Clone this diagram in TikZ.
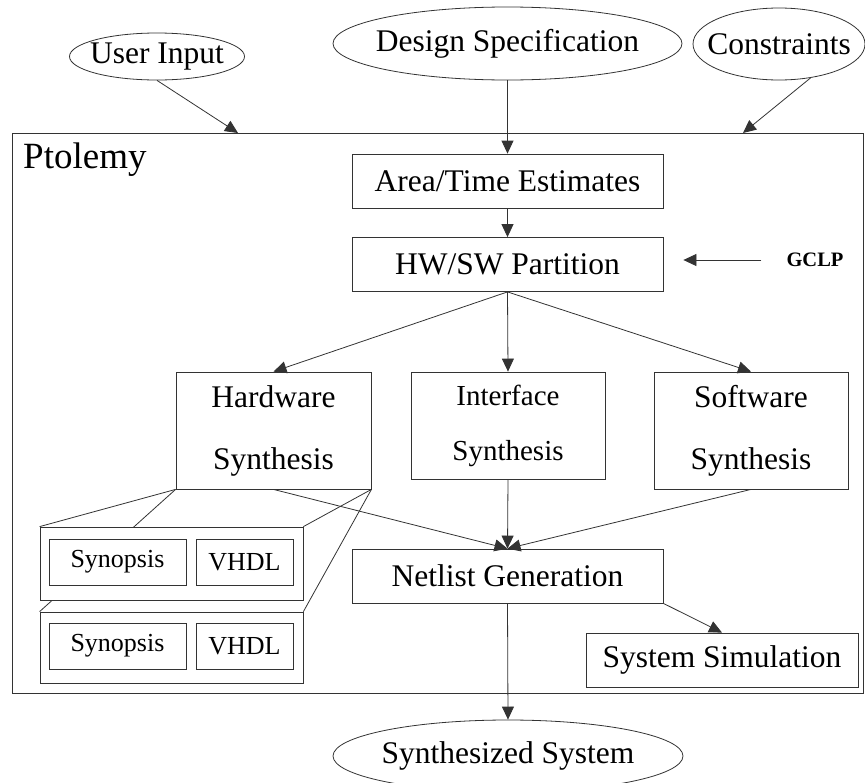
\documentclass[tikz,border=0pt]{standalone}
\usepackage{fontspec}
\setmainfont{Liberation Serif}
\usepackage{tikz}
\usetikzlibrary{arrows.meta,shapes.geometric,backgrounds,calc}
\definecolor{linec}{HTML}{333333}
\tikzset{
  >={Triangle[length=13pt,width=12pt]},
  stage/.style={draw=linec,line width=0.8pt,fill=white,inner sep=0pt,align=center,font=\fontsize{31.5}{62}\selectfont},
  istage/.style={stage,font=\fontsize{29}{55}\selectfont},
  tool/.style={stage,font=\fontsize{26}{30}\selectfont},
  bank/.style={draw=linec,line width=0.8pt,fill=white,inner sep=0pt},
  io/.style={ellipse,draw=linec,line width=0.8pt,inner sep=0pt,font=\fontsize{31.5}{36}\selectfont},
  flow/.style={->,line width=0.8pt,draw=linec},
  link/.style={line width=0.8pt,draw=linec},
  frame/.style={draw=linec,line width=0.8pt,inner sep=0pt},
  tag/.style={font=\fontsize{37}{40}\selectfont,inner sep=0pt,anchor=base west},
  gtag/.style={font=\bfseries\fontsize{20.5}{24}\selectfont,inner sep=0pt},
}
% text that does not widen its ellipse
\newcommand{\iotext}[1]{\makebox[0pt]{#1}}
% one Synopsis/VHDL bank: name, centre y, height
\newcommand{\toolrow}[3]{%
  \node[bank,minimum width=263pt,minimum height=#3] (#1) at (171.5,#2) {};
  \node[tool,minimum width=137pt,minimum height=46pt] (#1-syn) at (117.5,#2-1.5) {Synopsis};
  \node[tool,minimum width=97pt,minimum height=46pt] (#1-vhdl) at (244.5,#2-1.5) {VHDL};}

\begin{document}
\begin{tikzpicture}[x=1pt,y=-1pt]
  \useasboundingbox (0,0) rectangle (865,782);
  % inputs
  \node[io,minimum width=175pt,minimum height=47pt] (ui) at (157,56.5) {\iotext{User Input}};
  \node[io,minimum width=349pt,minimum height=73pt] (ds) at (507.5,43.5) {\iotext{Design Specification}};
  \node[io,minimum width=172pt,minimum height=72pt] (cons) at (779,44) {\iotext{Constraints}};
  % Ptolemy frame
  \node[frame,minimum width=851pt,minimum height=560pt] (ptolemy) at (437.5,413) {};
  \node[tag] (ptl) at (23,168) {Ptolemy};
  \coordinate (uiin) at (238,133);
  \coordinate (consin) at (743,133);
  % flow
  \node[stage,minimum width=311pt,minimum height=54pt] (at) at (507.5,181) {Area/Time Estimates};
  \node[stage,minimum width=311pt,minimum height=54pt] (hwsw) at (507.5,264.5) {HW/SW Partition};
  \node[gtag] (gclp) at (815,260) {GCLP};
  \node[stage,minimum width=195pt,minimum height=117pt] (hw) at (273.5,430.5) {Hardware\\Synthesis};
  \node[istage,minimum width=194pt,minimum height=107pt] (if) at (508,425.5) {Interface\\Synthesis};
  \node[stage,minimum width=194pt,minimum height=117pt] (sw) at (751,430.5) {Software\\Synthesis};
  \node[stage,minimum width=311pt,minimum height=54pt] (net) at (507.5,576) {Netlist Generation};
  \node[stage,minimum width=272pt,minimum height=54pt] (sim) at (722,660) {System Simulation};
  \node[io,minimum width=350pt,minimum height=72pt] (synsys) at (508,756) {\iotext{Synthesized System}};
  \toolrow{bankA}{563.5}{73pt}
  \toolrow{bankB}{647.5}{71pt}
  % projection lines behind the banks
  \begin{scope}[on background layer]
    \foreach \b in {bankA,bankB} {
      \draw[link] (hw.south west) -- (\b.north west);
      \draw[link] (hw.south east) -- (\b.north east);}
  \end{scope}
  \draw[flow] (ui.south) -- (uiin);
  \draw[flow] (ds.south) -- (at.north);
  \draw[flow] (cons.-47) -- (consin);
  \draw[flow] (at.south) -- (hwsw.north);
  \draw[flow] ([xshift=-25pt]gclp.west) -- ([xshift=20pt]hwsw.east |- gclp.west);
  \foreach \t in {hw,if,sw} {
    \draw[flow] (hwsw.south) -- (\t.north);
    \draw[flow] (\t.south) -- (net.north);}
  \draw[flow] (net.south east) -- (sim.north);
  \draw[flow] (net.south) -- (synsys.north);
\end{tikzpicture}
\end{document}
